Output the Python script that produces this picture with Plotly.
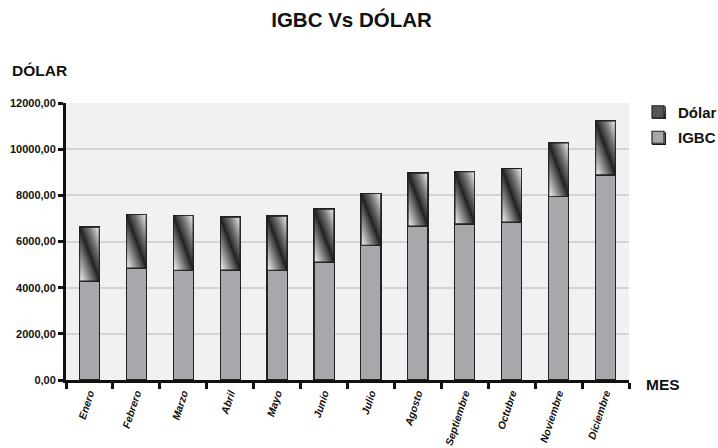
import base64
import plotly.graph_objects as go

meses = ["Enero", "Febrero", "Marzo", "Abril", "Mayo", "Junio", "Julio",
         "Agosto", "Septiembre", "Octubre", "Noviembre", "Diciembre"]
igbc = [4280, 4840, 4740, 4750, 4740, 5100, 5820, 6660, 6760, 6830, 7940, 8880]
dolar = [2350, 2340, 2400, 2310, 2370, 2310, 2270, 2310, 2280, 2350, 2340, 2350]

BAR_W = 0.43
FONT = "Liberation Sans, Arial, sans-serif"
IGBC_COLOR = "#a7a8ab"


def svg_uri(svg):
    return "data:image/svg+xml;base64," + base64.b64encode(svg.encode()).decode()


grad_svg = """<svg xmlns='http://www.w3.org/2000/svg' viewBox='0 0 100 100' preserveAspectRatio='none'>
<defs>
<linearGradient id='a' gradientUnits='userSpaceOnUse' x1='45' y1='55' x2='100' y2='0'>
<stop offset='0' stop-color='#111'/><stop offset='0.5' stop-color='#777'/><stop offset='1' stop-color='#f6f6f6'/></linearGradient>
<linearGradient id='b' gradientUnits='userSpaceOnUse' x1='55' y1='45' x2='0' y2='100'>
<stop offset='0' stop-color='#111'/><stop offset='0.5' stop-color='#888'/><stop offset='1' stop-color='#fcfcfc'/></linearGradient>
</defs>
<polygon points='0,0 100,0 100,100' fill='url(#a)'/>
<polygon points='0,0 100,100 0,100' fill='url(#b)'/>
<line x1='0' y1='0' x2='100' y2='100' stroke='#222' stroke-width='1' vector-effect='non-scaling-stroke'/>
<rect x='0' y='0' width='100' height='100' fill='none' stroke='#1a1a1a' stroke-width='1.6' vector-effect='non-scaling-stroke'/>
</svg>"""
grad_uri = svg_uri(grad_svg)

gray_svg = f"""<svg xmlns='http://www.w3.org/2000/svg' viewBox='0 0 100 100' preserveAspectRatio='none'>
<rect x='0' y='0' width='100' height='100' fill='{IGBC_COLOR}' stroke='#1a1a1a' stroke-width='2' vector-effect='non-scaling-stroke'/>
</svg>"""
gray_uri = svg_uri(gray_svg)

totals = [a + b for a, b in zip(igbc, dolar)]

fig = go.Figure()
fig.add_trace(go.Bar(x=meses, y=igbc, name="IGBC", width=BAR_W, legendrank=2, legendgroup="b",
                     marker=dict(color=IGBC_COLOR, line=dict(color="#222", width=1.2))))
fig.add_trace(go.Bar(x=meses, y=dolar, name="Dólar", width=BAR_W, legendrank=1, legendgroup="a",
                     marker=dict(color="#555", line=dict(color="#222", width=1.2))))

images = []
for i, (t, d) in enumerate(zip(totals, dolar)):
    images.append(dict(source=grad_uri, xref="x", yref="y", x=i, y=t,
                       sizex=BAR_W, sizey=d, xanchor="center", yanchor="top",
                       sizing="stretch", layer="above"))

# legend swatches (paper coordinates)
SW_X = 1.0409
SW_W = 14 / 563
SW_H = 12.5 / 277
images.append(dict(source=grad_uri, xref="paper", yref="paper", x=SW_X, y=0.9874,
                   sizex=SW_W, sizey=SW_H, xanchor="left", yanchor="top",
                   sizing="stretch", layer="above"))
images.append(dict(source=gray_uri, xref="paper", yref="paper", x=SW_X, y=0.8935,
                   sizex=SW_W, sizey=SW_H, xanchor="left", yanchor="top",
                   sizing="stretch", layer="above"))

fig.update_layout(
    width=718, height=448,
    barmode="stack",
    paper_bgcolor="white",
    plot_bgcolor="#f0f1f3",
    margin=dict(l=66, r=89, t=103, b=68, autoexpand=False),
    font=dict(family=FONT, color="#111"),
    title=dict(text="IGBC Vs DÓLAR", x=0.4896, xref="container", xanchor="center",
               y=0.9565, yref="container", yanchor="middle",
               font=dict(size=20.5, family=FONT, weight="bold", color="#111")),
    showlegend=True,
    legend=dict(x=1.016, y=1.027, xanchor="left", yanchor="top",
                traceorder="grouped", tracegroupgap=3,
                font=dict(size=15, family=FONT, weight="bold", color="#111"),
                bgcolor="rgba(0,0,0,0)", itemwidth=30),
    images=images,
    xaxis=dict(
        type="category",
        automargin=False,
        tickson="boundaries",
        ticks="outside", ticklen=6, tickwidth=3, tickcolor="#111",
        showline=True, linewidth=3, linecolor="#111",
        showgrid=False,
        tickangle=-72,
        tickfont=dict(size=10.5, family=FONT, style="italic", weight="bold", color="#111"),
        range=[-0.5, 11.5],
    ),
    yaxis=dict(
        automargin=False,
        range=[0, 12000],
        tickvals=[0, 2000, 4000, 6000, 8000, 10000, 12000],
        tickformat=".2f",
        ticks="outside", ticklen=5, tickwidth=3, tickcolor="#111",
        showline=True, linewidth=3, linecolor="#111",
        showgrid=True, gridcolor="#d2d3d5", gridwidth=1.5,
        zeroline=False,
        tickfont=dict(size=11, family=FONT, weight="bold", color="#111"),
    ),
    separators=",.",
    annotations=[
        dict(text="DÓLAR", xref="paper", yref="paper", x=-0.1, y=1.119,
             xanchor="left", yanchor="middle", showarrow=False,
             font=dict(size=15.5, family=FONT, weight="bold", color="#111")),
        dict(text="MES", xref="paper", yref="paper", x=1.027, y=-0.016,
             xanchor="left", yanchor="middle", showarrow=False,
             font=dict(size=15.5, family=FONT, weight="bold", color="#111")),
    ],
)

fig.write_html("out.html", config={"displayModeBar": False},
               post_script="document.body.style.margin='0';")
